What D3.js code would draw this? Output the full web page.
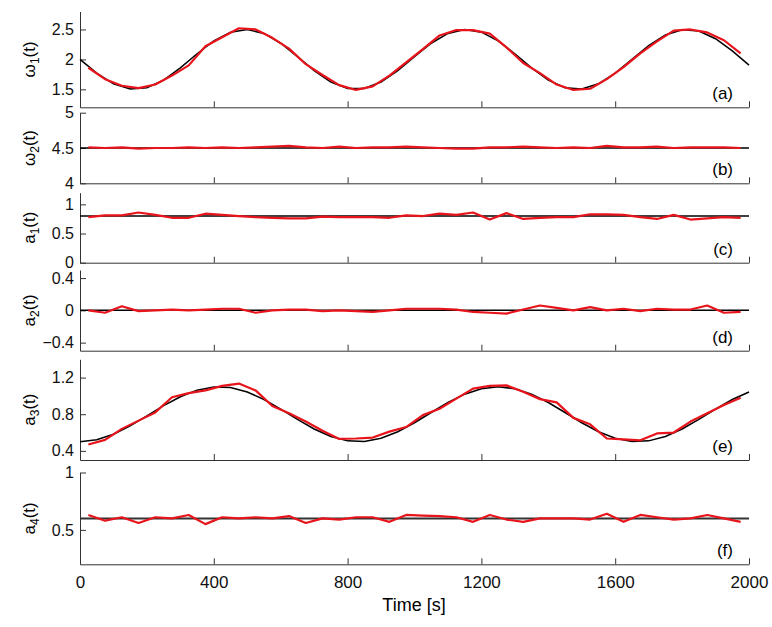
<!DOCTYPE html>
<html>
<head>
<meta charset="utf-8">
<script src="https://cdn.jsdelivr.net/npm/d3@7"></script>
<style>
  body { margin: 0; background: #fff; }
  svg { font-family: "Liberation Sans", Arial, sans-serif; }
  .axis path, .axis line { stroke: #333; }
  .axis text { font-size: 17px; fill: #111; }
  .axis.yax text { font-size: 16px; }
</style>
</head>
<body>
<svg id="chart" width="772" height="627"></svg>
<script>
// sample times (s)
var tTrue = [0, 50, 100, 150, 200, 250, 300, 350, 400, 450, 500, 550, 600, 650, 700, 750, 800, 850, 900, 950,
  1000, 1050, 1100, 1150, 1200, 1250, 1300, 1350, 1400, 1450, 1500, 1550, 1600, 1650, 1700, 1750, 1800, 1850, 1900, 1950, 2000];
var tEst = [25, 75, 125, 175, 225, 275, 325, 375, 425, 475, 525, 575, 625, 675, 725, 775, 825, 875, 925, 975,
  1025, 1075, 1125, 1175, 1225, 1275, 1325, 1375, 1425, 1475, 1525, 1575, 1625, 1675, 1725, 1775, 1825, 1875, 1925, 1975];
var tConst = [0, 2000];

// true parameters (black)
var w1True = [2.000, 1.771, 1.593, 1.505, 1.527, 1.655, 1.859, 2.095, 2.309, 2.455, 2.499, 2.433, 2.270, 2.047,
  1.814, 1.622, 1.514, 1.514, 1.622, 1.814, 2.047, 2.270, 2.433, 2.499, 2.455, 2.309, 2.095, 1.859, 1.655, 1.527,
  1.505, 1.593, 1.771, 2.000, 2.229, 2.407, 2.495, 2.473, 2.345, 2.141, 1.905];
var w2True = [4.5, 4.5];
var a1True = [0.8, 0.8];
var a2True = [0, 0];
var a3True = [0.500, 0.521, 0.581, 0.672, 0.781, 0.893, 0.991, 1.063, 1.098, 1.091, 1.043, 0.961, 0.856, 0.744,
  0.639, 0.557, 0.509, 0.502, 0.537, 0.609, 0.707, 0.819, 0.928, 1.019, 1.079, 1.100, 1.079, 1.019, 0.928, 0.819,
  0.707, 0.609, 0.537, 0.502, 0.509, 0.557, 0.639, 0.744, 0.856, 0.961, 1.043];
var a4True = [0.6, 0.6];

// estimates (red)
var w1Est = [1.86, 1.67, 1.56, 1.52, 1.58, 1.73, 1.90, 2.22, 2.37, 2.52, 2.50, 2.36, 2.18, 1.92, 1.74, 1.57, 1.49,
  1.55, 1.73, 1.95, 2.17, 2.40, 2.49, 2.49, 2.43, 2.20, 1.94, 1.77, 1.58, 1.49, 1.51, 1.67, 1.87, 2.10, 2.30, 2.48,
  2.50, 2.45, 2.32, 2.10];
var w2Est = [4.51, 4.50, 4.51, 4.49, 4.50, 4.50, 4.51, 4.50, 4.51, 4.50, 4.51, 4.52, 4.53, 4.51, 4.50, 4.52, 4.50,
  4.51, 4.51, 4.52, 4.51, 4.50, 4.49, 4.49, 4.51, 4.51, 4.52, 4.51, 4.50, 4.51, 4.50, 4.53, 4.51, 4.51, 4.52, 4.50,
  4.51, 4.51, 4.51, 4.50];
var a1Est = [0.78, 0.81, 0.81, 0.86, 0.82, 0.77, 0.77, 0.84, 0.82, 0.80, 0.78, 0.77, 0.76, 0.76, 0.79, 0.78, 0.78,
  0.78, 0.77, 0.81, 0.80, 0.84, 0.82, 0.86, 0.74, 0.85, 0.75, 0.77, 0.78, 0.78, 0.83, 0.83, 0.82, 0.78, 0.75, 0.82,
  0.74, 0.76, 0.78, 0.77];
var a2Est = [0.00, -0.03, 0.05, -0.01, 0.00, 0.01, 0.00, 0.01, 0.02, 0.02, -0.03, 0.00, 0.01, 0.01, -0.01, 0.00,
  -0.01, -0.02, 0.00, 0.02, 0.02, 0.02, 0.01, -0.02, -0.03, -0.04, 0.01, 0.06, 0.03, 0.00, 0.04, 0.00, 0.02, -0.01,
  0.02, 0.01, 0.01, 0.06, -0.03, -0.02];
var a3Est = [0.47, 0.52, 0.64, 0.73, 0.82, 0.985, 1.03, 1.06, 1.11, 1.135, 1.06, 0.89, 0.81, 0.72, 0.62, 0.53, 0.535,
  0.545, 0.61, 0.66, 0.79, 0.86, 0.97, 1.08, 1.11, 1.115, 1.045, 0.965, 0.93, 0.76, 0.69, 0.535, 0.525, 0.515, 0.59,
  0.60, 0.72, 0.81, 0.90, 0.98];
var a4Est = [0.63, 0.58, 0.61, 0.56, 0.61, 0.60, 0.63, 0.55, 0.61, 0.60, 0.61, 0.60, 0.62, 0.56, 0.60, 0.59, 0.61,
  0.61, 0.57, 0.63, 0.625, 0.62, 0.61, 0.57, 0.63, 0.59, 0.57, 0.60, 0.60, 0.60, 0.59, 0.64, 0.57, 0.63, 0.61, 0.59,
  0.60, 0.63, 0.60, 0.57];

var xTicks = [0, 400, 800, 1200, 1600, 2000];

var panels = [
  { sym: 'ω', sub: '1', tag: '(a)', top: 11.5, bottom: 107.3, domain: [1.2, 2.8], ticks: [1.5, 2, 2.5],
    tTrue: tTrue, yTrue: w1True, yEst: w1Est },
  { sym: 'ω', sub: '2', tag: '(b)', top: 112.7, bottom: 183.3, domain: [4, 5], ticks: [4, 4.5, 5],
    tTrue: tConst, yTrue: w2True, yEst: w2Est },
  { sym: 'a', sub: '1', tag: '(c)', top: 192.7, bottom: 262.7, domain: [0, 1.2], ticks: [0, 0.5, 1],
    tTrue: tConst, yTrue: a1True, yEst: a1Est },
  { sym: 'a', sub: '2', tag: '(d)', top: 270, bottom: 350.7, domain: [-0.5, 0.5], ticks: [-0.4, 0, 0.4],
    tTrue: tConst, yTrue: a2True, yEst: a2Est },
  { sym: 'a', sub: '3', tag: '(e)', top: 359.3, bottom: 460, domain: [0.3, 1.4], ticks: [0.4, 0.8, 1.2],
    tTrue: tTrue, yTrue: a3True, yEst: a3Est },
  { sym: 'a', sub: '4', tag: '(f)', top: 472.5, bottom: 564.3, domain: [0.2, 1], ticks: [0.5, 1],
    tTrue: tConst, yTrue: a4True, yEst: a4Est, thick: true }
];

var svg = d3.select('#chart');
var x = d3.scaleLinear().domain([0, 2000]).range([80, 749]);
var fmt = function (d) { return d < 0 ? '\u2212' + Math.abs(d) : String(d); };

panels.forEach(function (p, i) {
  var y = d3.scaleLinear().domain(p.domain).range([p.bottom, p.top]);
  var g = svg.append('g');
  var last = i === panels.length - 1;

  var xAxis = d3.axisBottom(x).tickValues(xTicks).tickSizeInner(-6).tickSizeOuter(0)
    .tickFormat(last ? d3.format('d') : '');
  var gx = g.append('g').attr('class', 'axis')
    .attr('transform', 'translate(0,' + p.bottom + ')').call(xAxis);
  gx.selectAll('text').attr('dy', '1.2em');

  var yAxis = d3.axisLeft(y).tickValues(p.ticks).tickSizeInner(-6).tickSizeOuter(0).tickFormat(fmt);
  var gy = g.append('g').attr('class', 'axis yax')
    .attr('transform', 'translate(80,0)').call(yAxis);
  gy.selectAll('text').attr('x', -6);

  var line = d3.line().x(function (d) { return x(d[0]); }).y(function (d) { return y(d[1]); });

  g.append('path')
    .datum(d3.zip(p.tTrue, p.yTrue))
    .attr('d', line)
    .attr('fill', 'none')
    .attr('stroke', p.thick ? '#333' : '#000')
    .attr('stroke-width', p.thick ? 2 : 1.5);

  g.append('path')
    .datum(d3.zip(tEst, p.yEst))
    .attr('d', line)
    .attr('fill', 'none')
    .attr('stroke', '#e8141b')
    .attr('stroke-width', 2.2)
    .attr('stroke-linejoin', 'round');

  // y label, e.g. ω1(t)
  var lab = g.append('text')
    .attr('transform', 'translate(35,' + ((p.top + p.bottom) / 2) + ') rotate(-90)')
    .attr('text-anchor', 'middle')
    .style('font-size', '17px');
  lab.append('tspan').text(p.sym);
  lab.append('tspan').text(p.sub).attr('dy', 4).style('font-size', '12px');
  lab.append('tspan').text('(t)').attr('dy', -4);

  g.append('text')
    .attr('x', 733).attr('y', p.bottom - 8)
    .attr('text-anchor', 'end')
    .style('font-size', '17px')
    .text(p.tag);
});

svg.append('text')
  .attr('x', 414).attr('y', 611)
  .attr('text-anchor', 'middle')
  .style('font-size', '18px')
  .text('Time [s]');
</script>
</body>
</html>
